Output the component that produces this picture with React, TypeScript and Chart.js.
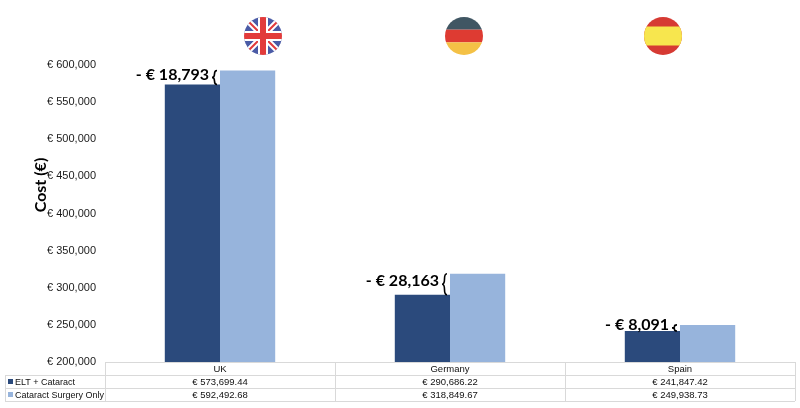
import { useEffect, useRef } from 'react'
import { Chart, registerables } from 'chart.js'

Chart.register(...registerables)

// data
const countries = ['UK', 'Germany', 'Spain']
const seriesNames = ['ELT + Cataract', 'Cataract Surgery Only']
const eltCataract = [573699.44, 290686.22, 241847.42]
const cataractOnly = [592492.68, 318849.67, 249938.73]
const yMin = 200000
const yMax = 600000
const yStep = 50000

const DARK = '#2B4A7C'
const LIGHT = '#97B4DC'
const GRID = '#D9D9D9'

const fmtTick = (v: number) => '€ ' + v.toLocaleString('en-US')
const fmtCell = (v: number) =>
  '€ ' + v.toLocaleString('en-US', { minimumFractionDigits: 2, maximumFractionDigits: 2 })
const fmtDiff = (v: number) => '- € ' + Math.round(v).toLocaleString('en-US')

function drawBrace(ctx: CanvasRenderingContext2D, x: number, y0: number, y1: number, w: number) {
  const h = y1 - y0
  const m = y0 + h / 2
  ctx.beginPath()
  ctx.moveTo(x + w, y0)
  ctx.quadraticCurveTo(x + w / 2, y0, x + w / 2, y0 + h / 4)
  ctx.quadraticCurveTo(x + w / 2, m, x, m)
  ctx.quadraticCurveTo(x + w / 2, m, x + w / 2, y1 - h / 4)
  ctx.quadraticCurveTo(x + w / 2, y1, x + w, y1)
  ctx.stroke()
}

function drawFlag(ctx: CanvasRenderingContext2D, country: string, cx: number, cy: number, r: number) {
  ctx.save()
  ctx.beginPath()
  ctx.arc(cx, cy, r, 0, Math.PI * 2)
  ctx.clip()
  if (country === 'UK') {
    ctx.fillStyle = '#4A5BA6'
    ctx.fillRect(cx - r, cy - r, 2 * r, 2 * r)
    ctx.lineCap = 'butt'
    ctx.strokeStyle = '#ffffff'
    ctx.lineWidth = 6
    ctx.beginPath()
    ctx.moveTo(cx - r, cy - r); ctx.lineTo(cx + r, cy + r)
    ctx.moveTo(cx + r, cy - r); ctx.lineTo(cx - r, cy + r)
    ctx.stroke()
    ctx.strokeStyle = '#E23B3B'
    ctx.lineWidth = 2
    ctx.stroke()
    ctx.fillStyle = '#ffffff'
    ctx.fillRect(cx - r, cy - 5, 2 * r, 10)
    ctx.fillRect(cx - 5, cy - r, 10, 2 * r)
    ctx.fillStyle = '#E23B3B'
    ctx.fillRect(cx - r, cy - 3, 2 * r, 6)
    ctx.fillRect(cx - 3, cy - r, 6, 2 * r)
  } else if (country === 'Germany') {
    const t = (2 * r) / 3
    ctx.fillStyle = '#405663'
    ctx.fillRect(cx - r, cy - r, 2 * r, t)
    ctx.fillStyle = '#DE3B32'
    ctx.fillRect(cx - r, cy - r + t, 2 * r, t)
    ctx.fillStyle = '#F4C146'
    ctx.fillRect(cx - r, cy - r + 2 * t, 2 * r, t)
  } else {
    ctx.fillStyle = '#D63A33'
    ctx.fillRect(cx - r, cy - r, 2 * r, 2 * r)
    ctx.fillStyle = '#F7E64E'
    ctx.fillRect(cx - r, cy - r / 2, 2 * r, r)
  }
  ctx.restore()
}

const flagOffsets = [43, 14, -17]

const extrasPlugin = {
  id: 'extras',
  afterDatasetsDraw(chart: Chart) {
    const ctx = chart.ctx
    const area = chart.chartArea
    const xs = chart.scales.x
    const dark = chart.getDatasetMeta(0).data as any[]
    const light = chart.getDatasetMeta(1).data as any[]

    ctx.save()
    // difference labels with braces
    countries.forEach((_, i) => {
      const yTop = light[i].y
      const yBot = dark[i].y
      const lightLeft = light[i].x - light[i].width / 2
      const bx = lightLeft - 8
      ctx.strokeStyle = '#000'
      ctx.lineWidth = 1.6
      drawBrace(ctx, bx, yTop, Math.max(yBot, yTop + 6), 5)
      ctx.fillStyle = '#000'
      ctx.font = 'bold 16px Lato'
      ctx.textAlign = 'right'
      ctx.textBaseline = 'middle'
      ctx.fillText(fmtDiff(cataractOnly[i] - eltCataract[i]), bx - 3, (yTop + yBot) / 2 - 3)
    })

    // flags
    countries.forEach((c, i) => {
      drawFlag(ctx, c, xs.getPixelForValue(i) + flagOffsets[i], 36, 19)
    })

    // y axis title
    ctx.save()
    ctx.translate(41, 185)
    ctx.rotate(-Math.PI / 2)
    ctx.font = 'bold 16px Lato'
    ctx.fillStyle = '#000'
    ctx.textAlign = 'center'
    ctx.textBaseline = 'middle'
    ctx.fillText('Cost (€)', 0, 0)
    ctx.restore()

    // data table
    const rowH = 13
    const top = area.bottom
    const colW = (area.right - area.left) / countries.length
    const tableLeft = 5
    ctx.strokeStyle = GRID
    ctx.lineWidth = 1
    ctx.beginPath()
    ctx.moveTo(area.left, top + 0.5); ctx.lineTo(area.right, top + 0.5)
    for (let r = 1; r <= 3; r++) {
      ctx.moveTo(tableLeft, top + r * rowH + 0.5); ctx.lineTo(area.right, top + r * rowH + 0.5)
    }
    ctx.moveTo(tableLeft + 0.5, top + rowH); ctx.lineTo(tableLeft + 0.5, top + 3 * rowH)
    for (let c = 0; c <= countries.length; c++) {
      const x = Math.round(area.left + c * colW) + 0.5
      ctx.moveTo(x, top); ctx.lineTo(x, top + 3 * rowH)
    }
    ctx.stroke()

    ctx.fillStyle = '#111'
    ctx.font = '9px "Liberation Sans"'
    ctx.textBaseline = 'middle'
    ctx.textAlign = 'center'
    countries.forEach((c, i) => {
      const cx = area.left + (i + 0.5) * colW
      ctx.fillStyle = '#111'
      ctx.font = '9.5px "Liberation Sans"'
      ctx.fillText(c, cx, top + rowH / 2 + 1)
      ctx.fillText(fmtCell(eltCataract[i]), cx, top + rowH * 1.5 + 1)
      ctx.fillText(fmtCell(cataractOnly[i]), cx, top + rowH * 2.5 + 1)
    })
    ctx.font = '9px "Liberation Sans"'
    ;[DARK, LIGHT].forEach((col, r) => {
      const cy = top + rowH * (r + 1.5)
      ctx.fillStyle = col
      ctx.fillRect(8, cy - 2.5, 5, 5)
      ctx.fillStyle = '#111'
      ctx.textAlign = 'left'
      ctx.fillText(seriesNames[r], 15, cy + 1)
    })
    ctx.restore()
  },
}

export default function App() {
  const canvasRef = useRef<HTMLCanvasElement>(null)
  const chartRef = useRef<Chart | null>(null)

  useEffect(() => {
    document.body.style.margin = '0'
    if (!canvasRef.current) return
    if (chartRef.current) chartRef.current.destroy()

    chartRef.current = new Chart(canvasRef.current, {
      type: 'bar',
      data: {
        labels: countries,
        datasets: [
          { label: seriesNames[0], data: eltCataract, backgroundColor: DARK, borderWidth: 0 },
          { label: seriesNames[1], data: cataractOnly, backgroundColor: LIGHT, borderWidth: 0 },
        ],
      },
      options: {
        responsive: true,
        maintainAspectRatio: false,
        animation: false,
        datasets: { bar: { categoryPercentage: 0.48, barPercentage: 1 } },
        layout: { padding: { top: 65, bottom: 46, right: 5, left: 0 } },
        plugins: {
          legend: { display: false },
          tooltip: { enabled: false },
        },
        scales: {
          x: { display: false },
          y: {
            min: yMin,
            max: yMax,
            grid: { display: false },
            border: { display: false },
            ticks: {
              stepSize: yStep,
              padding: 1,
              color: '#1a1a1a',
              font: { family: '"Liberation Sans"', size: 11 },
              callback: (v) => fmtTick(Number(v)),
            },
            afterFit: (scale: any) => {
              scale.width = 105
            },
          },
        },
      },
      plugins: [extrasPlugin],
    })

    return () => {
      if (chartRef.current) {
        chartRef.current.destroy()
        chartRef.current = null
      }
    }
  }, [])

  return (
    <div style={{ width: '800px', height: '408px', position: 'relative', background: '#fff' }}>
      <canvas ref={canvasRef}></canvas>
    </div>
  )
}
